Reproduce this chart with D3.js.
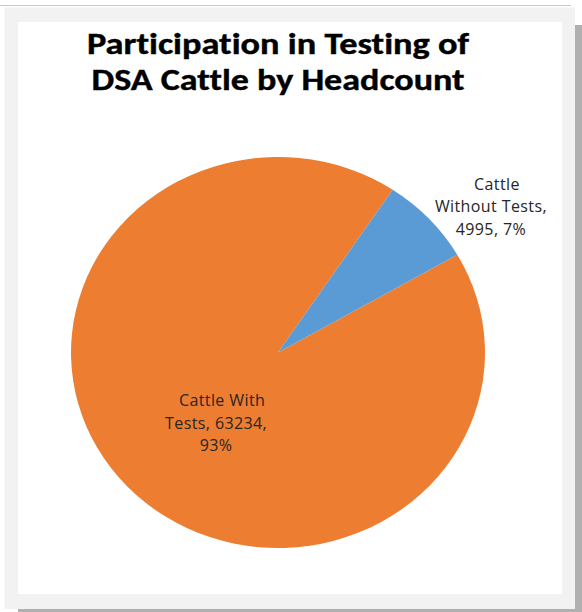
<!DOCTYPE html>
<html>
<head>
<meta charset="utf-8">
<script src="https://cdn.jsdelivr.net/npm/d3@7"></script>
<style>
  html, body { margin: 0; padding: 0; background: #ffffff; }
  svg { display: block; }
  text { font-variant-ligatures: none; }
</style>
</head>
<body>
<div id="chart"></div>
<script>
// Chart data
const categories = ["Cattle With Tests", "Cattle Without Tests"];
const headcounts = [63234, 4995];
const sliceColors = ["#ED7D31", "#5B9BD5"];
const titleLines = ["Participation in Testing of", "DSA Cattle by Headcount"];
// words per wrapped line of each data label
const labelWordsPerLine = [[2, 2, 1], [1, 2, 2]];

const width = 582, height = 612;
const svg = d3.select("#chart").append("svg")
  .attr("width", width).attr("height", height);

// Frame: top rule, drop shadow, grey border, white chart area
svg.append("line").attr("x1", 0).attr("x2", 571).attr("y1", 5.5).attr("y2", 5.5)
  .attr("stroke", "#c8c8c8").attr("stroke-width", 1);
svg.append("rect").attr("x", 575).attr("y", 25).attr("width", 7).attr("height", 587).attr("fill", "#b0b0b0");
svg.append("rect").attr("x", 18).attr("y", 609).attr("width", 564).attr("height", 3).attr("fill", "#b0b0b0");
svg.append("rect").attr("x", 4.5).attr("y", 7.5).attr("width", 570.5).attr("height", 601.5).attr("fill", "#f2f2f2");
svg.append("rect").attr("x", 18).attr("y", 22).attr("width", 544).attr("height", 572).attr("fill", "#ffffff");

// Title, two lines
const titleWidths = [382, 373];
svg.selectAll("text.title").data(titleLines).join("text")
  .attr("class", "title")
  .attr("x", 278).attr("y", (d, i) => 54 + i * 36)
  .attr("text-anchor", "middle")
  .attr("font-family", "Carlito, Lato, 'Open Sans', sans-serif")
  .attr("font-weight", 700)
  .attr("font-size", 30)
  .attr("textLength", (d, i) => titleWidths[i])
  .attr("lengthAdjust", "spacingAndGlyphs")
  .attr("stroke", "#000000")
  .attr("stroke-width", 0.4)
  .attr("fill", "#000000")
  .text(d => d);

// Pie
const cx = 278, cy = 352.5, rx = 207, ry = 195.5;
const startAngle = 60 * Math.PI / 180;
const data = categories.map((c, i) => ({ category: c, value: headcounts[i], color: sliceColors[i] }));
const total = d3.sum(data, d => d.value);

const pie = d3.pie().value(d => d.value).sort(null)
  .startAngle(startAngle).endAngle(startAngle + 2 * Math.PI);
const arcs = pie(data);
const arc = d3.arc().innerRadius(0).outerRadius(rx);

const pieG = svg.append("g")
  .attr("transform", `translate(${cx},${cy}) scale(1,${ry / rx})`);
pieG.selectAll("path").data(arcs).join("path")
  .attr("d", arc)
  .attr("fill", d => d.data.color);

// Data labels: "Category, value, percent%" wrapped over three lines
const labelFont = "'Open Sans', Lato, sans-serif";
const lineH = 22.5;
arcs.forEach((a, i) => {
  const pct = Math.round(a.data.value / total * 100);
  const words = `${a.data.category}, ${a.data.value}, ${pct}%`.split(" ");
  const lines = [];
  let k = 0;
  labelWordsPerLine[i].forEach(n => { lines.push(words.slice(k, k + n).join(" ")); k += n; });

  const mid = (a.startAngle + a.endAngle) / 2;
  const share = a.data.value / total;
  let lx, ly;
  if (share > 0.5) {
    // large slice: label inside the pie
    const r = rx * 0.41;
    lx = cx + Math.sin(mid) * r;
    ly = cy - Math.cos(mid) * r * (ry / rx) + 16;
  } else {
    // small slice: label just beyond the rim
    const ex = cx + Math.sin(mid) * rx;
    const ey = cy - Math.cos(mid) * ry;
    lx = ex + 62;
    ly = ey - 12;
  }
  const t = svg.append("text")
    .attr("text-anchor", "middle")
    .attr("font-family", labelFont)
    .attr("font-size", 16)
    .attr("letter-spacing", 0.4)
    .attr("fill", "#262626");
  t.selectAll("tspan").data(lines).join("tspan")
    .attr("x", (d, j) => lx + (j === 0 ? 6 : 0))
    .attr("y", (d, j) => ly + (j - 1) * lineH + 5.5)
    .text(d => d);
});
</script>
</body>
</html>
